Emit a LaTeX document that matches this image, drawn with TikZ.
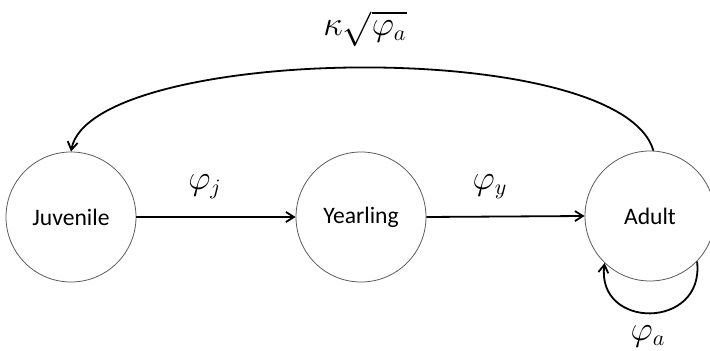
\documentclass[tikz,border=0pt]{standalone}
\usepackage{amsmath}
\usepackage{fontspec}
\setmainfont{Carlito}
\usetikzlibrary{arrows.meta}

\begin{document}
\begin{tikzpicture}[x=0.5pt, y=-0.5pt,
    stage/.style={circle, draw=black!65, line width=0.4pt, minimum size=65pt, inner sep=0pt, font=\fontsize{11.8}{14}\selectfont},
    flow/.style={-{Straight Barb[length=4pt, width=5pt]}, line width=0.9pt},
    rate/.style={inner sep=1pt, font=\fontsize{16}{18}\selectfont}]
    \useasboundingbox (0,0) rectangle (710,351);

    % Stages
    \node[stage] (juv) at (71,217) {Juvenile};
    \node[stage] (year) at (361,217) {Yearling};
    \node[stage] (adult) at (650,216) {Adult};

    % Transitions
    \draw[flow] (juv.east) -- (year.west);
    \draw[flow] (year.east) -- (adult.west);
    \node[rate] (phij) at (205,187) {$\varphi_j$};
    \node[rate] (phiy) at (490,187) {$\varphi_y$};

    % Reproduction
    \draw[flow] (adult.87) .. controls (620,35) and (90,45) .. (juv.north);
    \node[rate] (fec) at (365,29) {$\kappa\sqrt{\varphi_a}$};

    % Adult survival
    \draw[flow] (adult.-44) .. controls (705,330) and (596,330) .. (adult.-134);
    \node[rate] (phia) at (648,336) {$\varphi_a$};
\end{tikzpicture}
\end{document}
